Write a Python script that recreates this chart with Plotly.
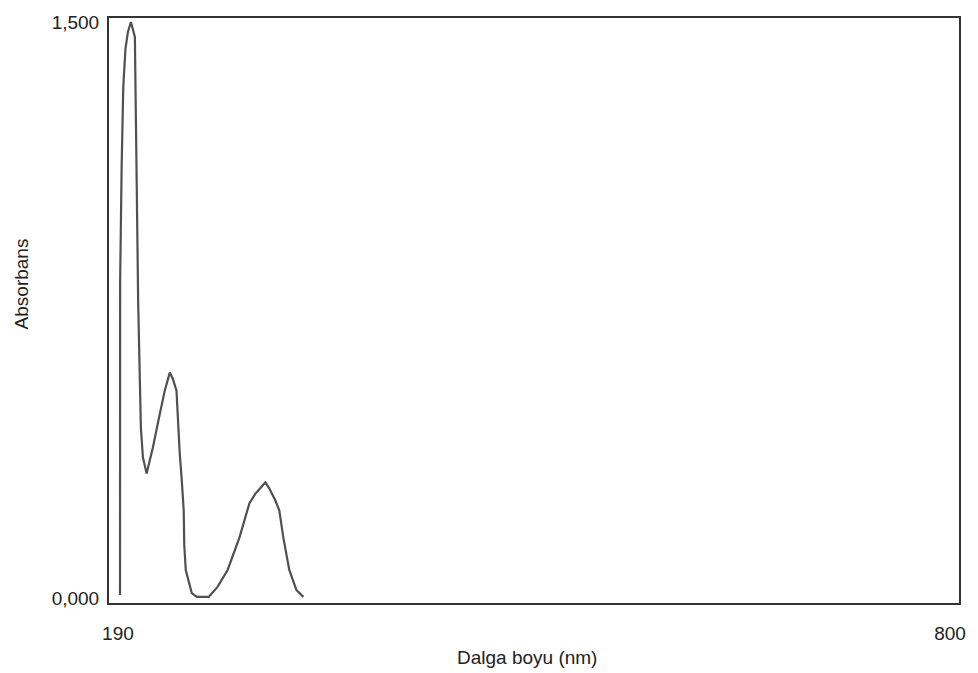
import plotly.graph_objects as go

# UV-Vis absorption spectrum (wavelength in nm, absorbance)
wavelength = [191.5, 191.6, 192.7, 193.9, 195.5, 197.3, 199.5, 202.4, 203.2, 203.9,
              204.8, 206.8, 208.3, 211.0, 215.6, 220.7, 224.3, 228.0, 230.2, 232.9,
              234.1, 235.3, 236.8, 238.2, 238.6, 239.7, 244.1, 247.7, 256.5, 263.0,
              270.4, 279.1, 286.4, 290.8, 298.1, 301.0, 305.4, 308.3, 311.2, 315.6,
              320.8, 325.9]
absorbance = [0.008, 0.825, 1.124, 1.331, 1.430, 1.474, 1.500, 1.461, 1.233, 1.015,
              0.773, 0.444, 0.366, 0.324, 0.392, 0.480, 0.540, 0.587, 0.571, 0.540,
              0.444, 0.376, 0.306, 0.228, 0.138, 0.073, 0.013, 0.003, 0.003, 0.029,
              0.073, 0.158, 0.247, 0.272, 0.301, 0.285, 0.254, 0.228, 0.158, 0.073,
              0.021, 0.003]

x_ticks = [190, 800]
y_ticks = [0.0, 1.5]

x_title = "Dalga boyu (nm)"
y_title = "Absorbans"

font_family = "Liberation Sans, Arial, sans-serif"
text_color = "#222222"
font_size = 19

fig = go.Figure()
fig.add_trace(go.Scatter(
    x=wavelength, y=absorbance, mode="lines",
    line=dict(color="#505050", width=2.2),
    hoverinfo="skip", showlegend=False,
))

fig.update_layout(
    width=978, height=673,
    margin=dict(l=109, r=16, t=16, b=70),
    paper_bgcolor="white", plot_bgcolor="white",
    separators=",.",
    font=dict(family=font_family, size=font_size, color=text_color),
    showlegend=False,
)

fig.update_xaxes(
    range=[183.43, 806.57],
    tickmode="array", tickvals=x_ticks, ticktext=[str(v) for v in x_ticks],
    showgrid=False, zeroline=False,
    showline=True, linecolor="#333333", linewidth=2, mirror=True,
    ticks="outside", ticklen=12, tickcolor="rgba(0,0,0,0)",
    tickfont=dict(size=font_size, color=text_color),
)
fig.update_yaxes(
    range=[-0.013, 1.5104],
    tickmode="array", tickvals=y_ticks, tickformat=".3f",
    showgrid=False, zeroline=False,
    showline=True, linecolor="#333333", linewidth=2, mirror=True,
    ticks="outside", ticklen=4, tickcolor="rgba(0,0,0,0)",
    tickfont=dict(size=font_size, color=text_color),
)

# Axis titles placed as paper-referenced annotations
fig.add_annotation(
    text=x_title, xref="paper", yref="paper",
    x=(528 - 109) / (962 - 109), y=-(658 - 603) / (603 - 16),
    xanchor="center", yanchor="middle", showarrow=False,
    font=dict(size=font_size, color=text_color, family=font_family),
)
fig.add_annotation(
    text=y_title, xref="paper", yref="paper",
    x=-(109 - 21) / (962 - 109), y=(603 - 283) / (603 - 16),
    xanchor="center", yanchor="middle", textangle=-90, showarrow=False,
    font=dict(size=font_size, color=text_color, family=font_family),
)

fig.write_html("out.html")
